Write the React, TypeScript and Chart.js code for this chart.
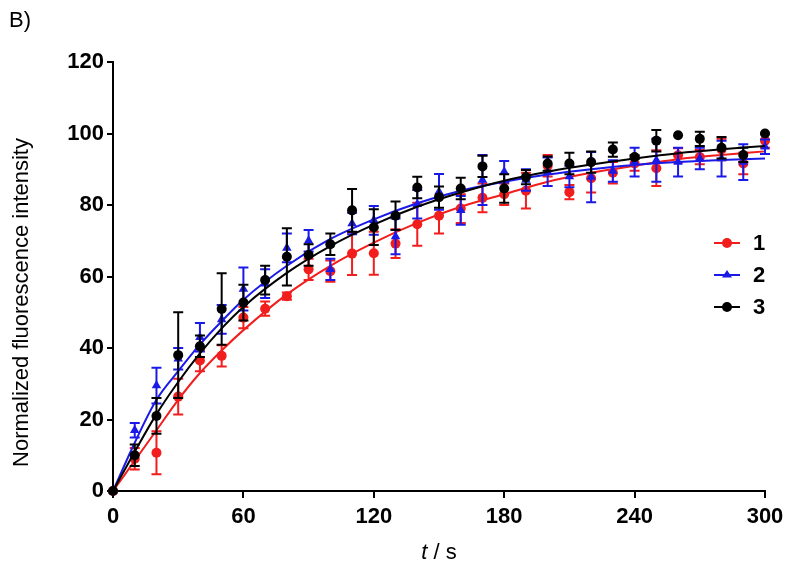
import { useEffect, useRef } from "react";
import { Chart, registerables } from "chart.js";

Chart.register(...registerables);

// ---------- data ----------
const times = [0, 10, 20, 30, 40, 50, 60, 70, 80, 90, 100, 110, 120, 130, 140, 150, 160, 170, 180, 190, 200, 210, 220, 230, 240, 250, 260, 270, 280, 290, 300];
const seriesLabels = ["1", "2", "3"];

const values1 = [0, 9, 10.7, 26.4, 36.5, 37.8, 48.5, 51, 54.5, 62, 61.5, 66.4, 66.5, 69.2, 74.6, 77, 79, 82, 83, 84, 91, 83.6, 87.5, 89, 91.6, 90.3, 93.9, 93.4, 95.5, 91.6, 98];
const errors1 = [0, 3, 6, 5, 3, 3, 3, 2, 1, 3, 3, 6, 6, 4, 6, 5, 4, 4, 3, 5, 3, 2, 4, 3, 2, 5, 2, 2, 3, 3, 2];

const values2 = [0, 17, 29.5, 37, 43, 48, 56.5, 58, 68, 70, 62, 74.8, 75.7, 71.2, 80.2, 83.7, 78.5, 87, 89.3, 87, 89.3, 88, 87.8, 89.5, 92, 92.5, 92, 93, 93, 92, 96.3];
const errors2 = [0, 2, 5, 3, 4, 4, 6, 4, 4, 3, 3, 3, 4, 5, 4, 5, 4, 7, 3, 3, 4, 3, 7, 3, 4, 6, 4, 3, 5, 5, 2];

const values3 = [0, 10, 21, 38, 40.5, 50.9, 52.7, 59, 65.5, 66, 69, 78.5, 73.8, 77, 84.9, 82.2, 84.6, 90.8, 84.6, 87.8, 91.6, 91.6, 92, 95.5, 93.4, 98, 99.5, 98.5, 96, 94, 100];
const errors3 = [0, 3, 5, 12, 3, 10, 5, 4, 8, 3, 3, 6, 5, 4, 3, 3, 3, 3, 4, 2, 2, 3, 3, 2, 0.5, 3, 0, 2, 3, 2, 0];

const fitTimes = [0, 10, 20, 30, 40, 50, 60, 80, 100, 120, 140, 160, 180, 200, 220, 240, 260, 280, 300];
const fit1 = [0, 8.5, 17, 25.5, 33, 39.3, 45, 55, 63, 69.5, 75, 79.5, 83, 86.5, 89, 91, 92.8, 94, 95];
const fit2 = [0, 13.5, 25.5, 33.5, 41, 47.5, 53.5, 63, 70.5, 76, 80.5, 84, 86.5, 88.5, 90, 91.2, 92, 92.6, 93];
const fit3 = [0, 11, 21.5, 30.5, 38.5, 45.5, 51.5, 61, 68.5, 74.5, 79.5, 83.5, 86.8, 89.3, 91.3, 93, 94.5, 95.6, 96.5];

const xTicks = [0, 60, 120, 180, 240, 300];
const yTicks = [0, 20, 40, 60, 80, 100, 120];

const colors = ["#f21d1d", "#1a1ae8", "#000000"];
const shapes = ["circle", "triangle", "circle"];

const FONT = "'Liberation Sans', Arial, sans-serif";

function toPoints(xs: number[], ys: number[]) {
  return xs.map((x, i) => ({ x, y: ys[i] }));
}

function drawMarker(ctx: CanvasRenderingContext2D, shape: string, x: number, y: number, r: number) {
  ctx.beginPath();
  if (shape === "triangle") {
    const h = r * 1.5;
    ctx.moveTo(x, y - h * 0.67);
    ctx.lineTo(x + r, y + h * 0.33);
    ctx.lineTo(x - r, y + h * 0.33);
    ctx.closePath();
  } else {
    ctx.arc(x, y, r, 0, Math.PI * 2);
  }
  ctx.fill();
}

const errorBarPlugin = {
  id: "errorBars",
  beforeDatasetDraw(chart: any, args: any) {
    const ds = chart.data.datasets[args.index];
    if (!ds.errors) return;
    const ys = chart.scales.y;
    const ctx = chart.ctx as CanvasRenderingContext2D;
    ctx.save();
    ctx.strokeStyle = ds.borderColor;
    ctx.lineWidth = 2;
    args.meta.data.forEach((pt: any, i: number) => {
      const e = ds.errors[i];
      if (!e) return;
      const v = ds.data[i].y;
      const top = ys.getPixelForValue(v + e);
      const bot = ys.getPixelForValue(v - e);
      const x = pt.x;
      ctx.beginPath();
      ctx.moveTo(x, top);
      ctx.lineTo(x, bot);
      ctx.moveTo(x - 5, top);
      ctx.lineTo(x + 5, top);
      ctx.moveTo(x - 5, bot);
      ctx.lineTo(x + 5, bot);
      ctx.stroke();
    });
    ctx.restore();
  },
};

const textPlugin = {
  id: "texts",
  afterDraw(chart: any) {
    const ctx = chart.ctx as CanvasRenderingContext2D;
    const area = chart.chartArea;
    ctx.save();
    ctx.fillStyle = "#000";
    // panel label
    ctx.font = `22px ${FONT}`;
    ctx.textAlign = "left";
    ctx.textBaseline = "middle";
    ctx.fillText("B)", 9, 21);

    // y title
    ctx.save();
    ctx.translate(22, (area.top + area.bottom) / 2 + 26);
    ctx.rotate(-Math.PI / 2);
    ctx.textAlign = "center";
    ctx.textBaseline = "middle";
    ctx.font = `22px ${FONT}`;
    ctx.fillText("Normalized fluorescence intensity", 0, 0);
    ctx.restore();

    // x title: italic t + " / s"
    const cx = (area.left + area.right) / 2;
    const yT = 553;
    ctx.textBaseline = "middle";
    ctx.font = `italic 22px ${FONT}`;
    const wT = ctx.measureText("t").width;
    ctx.font = `22px ${FONT}`;
    const rest = " / s";
    const wR = ctx.measureText(rest).width;
    const start = cx - (wT + wR) / 2;
    ctx.textAlign = "left";
    ctx.font = `italic 22px ${FONT}`;
    ctx.fillText("t", start, yT);
    ctx.font = `22px ${FONT}`;
    ctx.fillText(rest, start + wT, yT);

    // legend
    const pointSets = chart.data.datasets.filter((d: any) => d.errors);
    pointSets.forEach((d: any, i: number) => {
      const ly = 243 + 32 * i;
      ctx.strokeStyle = d.borderColor;
      ctx.fillStyle = d.borderColor;
      ctx.lineWidth = 2;
      ctx.beginPath();
      ctx.moveTo(714, ly);
      ctx.lineTo(740, ly);
      ctx.stroke();
      drawMarker(ctx, d.pointStyle, 727, ly, 5);
      ctx.fillStyle = "#000";
      ctx.font = `bold 22px ${FONT}`;
      ctx.textAlign = "left";
      ctx.textBaseline = "middle";
      ctx.fillText(d.label, 753, ly + 1);
    });
    ctx.restore();
  },
};

export default function App() {
  const ref = useRef<HTMLCanvasElement | null>(null);

  useEffect(() => {
    if (!ref.current) return;
    const valueSets = [values1, values2, values3];
    const errorSets = [errors1, errors2, errors3];
    const fitSets = [fit1, fit2, fit3];
    const datasets: any[] = [];
    for (let i = 0; i < 3; i++) {
      datasets.push({
        type: "scatter",
        label: seriesLabels[i],
        data: toPoints(times, valueSets[i]),
        errors: errorSets[i],
        borderColor: colors[i],
        backgroundColor: colors[i],
        pointStyle: shapes[i],
        pointRadius: i === 1 ? 5.5 : 5,
        pointBorderWidth: 0,
        showLine: false,
        clip: false,
        order: 6 - 2 * i,
      });
      datasets.push({
        type: "line",
        label: "fit " + seriesLabels[i],
        data: toPoints(fitTimes, fitSets[i]),
        borderColor: colors[i],
        borderWidth: 2,
        pointRadius: 0,
        fill: false,
        cubicInterpolationMode: "monotone",
        clip: false,
        order: 5 - 2 * i,
      });
    }

    const chart = new Chart(ref.current, {
      type: "scatter",
      data: { datasets },
      options: {
        animation: false,
        responsive: false,
        maintainAspectRatio: false,
        layout: { padding: { left: 0, right: 35, top: 62, bottom: 0 } },
        plugins: { legend: { display: false }, tooltip: { enabled: false }, title: { display: false } },
        scales: {
          x: {
            type: "linear",
            min: 0,
            max: 300,
            afterBuildTicks: (s: any) => {
              s.ticks = xTicks.map((v) => ({ value: v }));
            },
            afterFit: (s: any) => {
              s.height = 89;
            },
            ticks: { color: "#000", font: { family: FONT, size: 22, weight: "bold" }, padding: 6, maxRotation: 0, autoSkip: false },
            grid: { drawOnChartArea: false, drawTicks: true, tickLength: 7, color: "#000", lineWidth: 2 },
            border: { color: "#000", width: 2 },
          },
          y: {
            type: "linear",
            min: 0,
            max: 120,
            afterBuildTicks: (s: any) => {
              s.ticks = yTicks.map((v) => ({ value: v }));
            },
            afterFit: (s: any) => {
              s.width = 113;
            },
            ticks: { color: "#000", font: { family: FONT, size: 22, weight: "bold" }, padding: 3, autoSkip: false },
            grid: { drawOnChartArea: false, drawTicks: true, tickLength: 6, color: "#000", lineWidth: 2 },
            border: { color: "#000", width: 2 },
          },
        },
      } as any,
      plugins: [errorBarPlugin, textPlugin],
    });
    return () => chart.destroy();
  }, []);

  return (
    <div style={{ position: "absolute", left: 0, top: 0, width: 800, height: 580, background: "#fff" }}>
      <canvas ref={ref} width={800} height={580} />
    </div>
  );
}
